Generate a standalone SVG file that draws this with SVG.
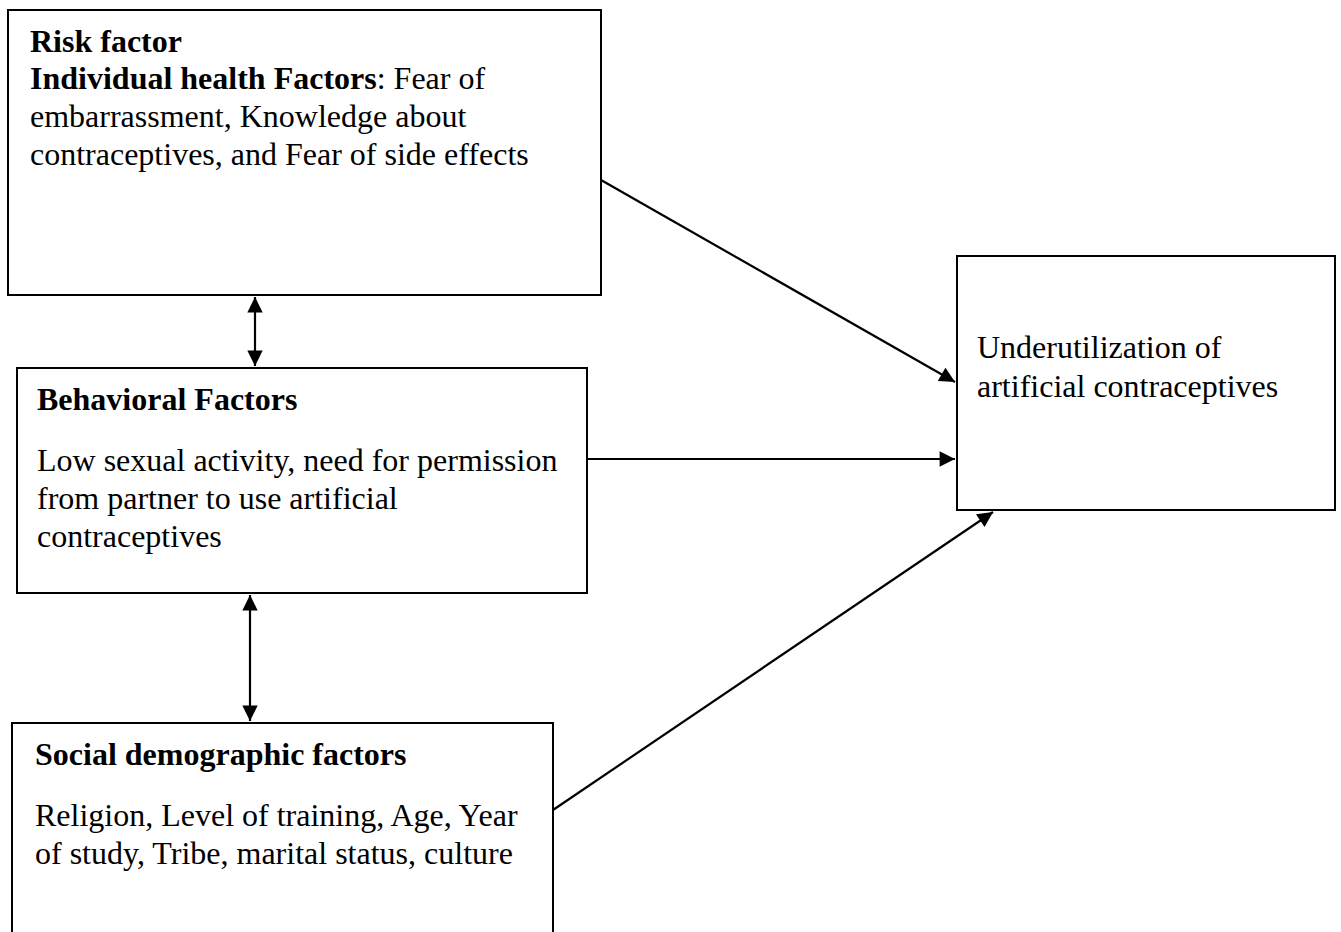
<svg xmlns="http://www.w3.org/2000/svg" width="1341" height="932" viewBox="0 0 1341 932">
<style>
.box{fill:#fff;stroke:#000;stroke-width:2}
.t{font-family:"Liberation Serif","Times New Roman",serif;font-size:32px;fill:#000}
.b{font-weight:bold}
.c{stroke:#000;stroke-width:2.2;fill:none}
</style>
<defs>
<marker id="ah" viewBox="0 0 10 10" refX="10" refY="5" markerWidth="7.5" markerHeight="7" orient="auto-start-reverse">
<path d="M0,0 L10,5 L0,10 z" fill="#000"/>
</marker>
</defs>
<rect width="1341" height="932" fill="#fff"/>
<g id="connectors">
<line class="c" x1="255" y1="297" x2="255" y2="366" marker-start="url(#ah)" marker-end="url(#ah)"/>
<line class="c" x1="250" y1="595" x2="250" y2="721" marker-start="url(#ah)" marker-end="url(#ah)"/>
<line class="c" x1="601" y1="180" x2="955" y2="382" marker-end="url(#ah)"/>
<line class="c" x1="587" y1="459" x2="955" y2="459" marker-end="url(#ah)"/>
<line class="c" x1="553" y1="810" x2="993" y2="512" marker-end="url(#ah)"/>
</g>
<g id="risk">
<rect class="box" x="8" y="10" width="593" height="285"/>
<text class="t b" x="30" y="52">Risk factor</text>
<text class="t" x="30" y="89"><tspan class="b">Individual health Factors</tspan>: Fear of</text>
<text class="t" x="30" y="127">embarrassment, Knowledge about</text>
<text class="t" x="30" y="165">contraceptives, and Fear of side effects</text>
</g>
<g id="behavioral">
<rect class="box" x="17" y="368" width="570" height="225"/>
<text class="t b" x="37" y="410">Behavioral Factors</text>
<text class="t" x="37" y="471">Low sexual activity, need for permission</text>
<text class="t" x="37" y="509">from partner to use artificial</text>
<text class="t" x="37" y="547">contraceptives</text>
</g>
<g id="social">
<rect class="box" x="12" y="723" width="541" height="220"/>
<text class="t b" x="35" y="765">Social demographic factors</text>
<text class="t" x="35" y="826">Religion, Level of training, Age, Year</text>
<text class="t" x="35" y="864">of study, Tribe, marital status, culture</text>
</g>
<g id="outcome">
<rect class="box" x="957" y="256" width="378" height="254"/>
<text class="t" x="977" y="358">Underutilization of</text>
<text class="t" x="977" y="397">artificial contraceptives</text>
</g>
</svg>
